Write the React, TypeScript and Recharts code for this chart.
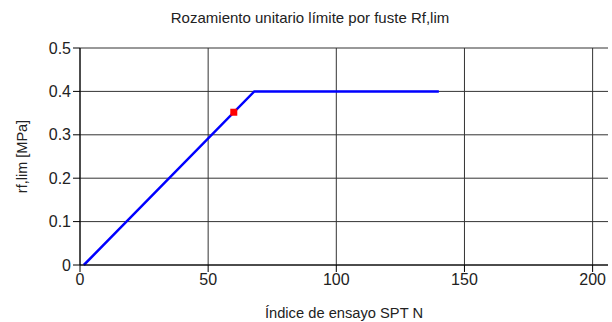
import React from 'react';
import { ComposedChart, Line, XAxis, YAxis, CartesianGrid } from 'recharts';

const curveN = [1.5, 68, 140];
const curveRf = [0, 0.4, 0.4];
const pointN = [60];
const pointRf = [0.352];
const xTicks = [0, 50, 100, 150, 200];
const yTicks = [0, 0.1, 0.2, 0.3, 0.4, 0.5];

const curve = curveN.map((n, i) => ({ n, rf: curveRf[i] }));
const point = pointN.map((n, i) => ({ n, rf: pointRf[i] }));

const font = 'Arial, "Liberation Sans", sans-serif';

const RedSquare = (p: any) => (
  <rect key={`pt-${p.index}`} x={p.cx - 3.5} y={p.cy - 3.5} width={7} height={7} fill="#ff0000" />
);

const App: React.FC = () => {
  return (
    <div style={{ position: 'fixed', left: 0, top: 0, width: 612, height: 322, background: '#fff', fontFamily: font }}>
      <style>{'html,body{margin:0;overflow:hidden}.recharts-surface{overflow:visible}'}</style>
      <ComposedChart width={612} height={322} margin={{ top: 48, right: 4, bottom: 0, left: 0 }}>
        <CartesianGrid stroke="#333" strokeWidth={1} horizontalValues={yTicks} verticalValues={xTicks} />
        <XAxis
          type="number"
          dataKey="n"
          domain={[0, 206]}
          ticks={xTicks}
          allowDataOverflow
          height={57}
          tickSize={7}
          stroke="#000"
          tick={{ fill: '#222', fontSize: 16, fontFamily: font }}
          label={{ value: 'Índice de ensayo SPT N', position: 'insideBottom', offset: 4, fill: '#222', fontSize: 14.7, fontFamily: font }}
        />
        <YAxis
          type="number"
          domain={[0, 0.5]}
          ticks={yTicks}
          width={80}
          tickSize={7}
          stroke="#000"
          tickFormatter={(v: number) => String(v)}
          tick={{ fill: '#222', fontSize: 16, fontFamily: font }}
          label={{ value: 'rf,lim [MPa]', angle: -90, position: 'insideLeft', offset: 22, fill: '#222', fontSize: 14.5, fontFamily: font, style: { textAnchor: 'middle' } }}
        />
        <Line data={curve} dataKey="rf" type="linear" stroke="#0000ff" strokeWidth={2.5} dot={false} isAnimationActive={false} />
        <Line data={point} dataKey="rf" type="linear" stroke="none" dot={RedSquare} isAnimationActive={false} />
      </ComposedChart>
      <div style={{ position: 'absolute', left: 8, width: 604, top: 9, textAlign: 'center', fontSize: 15, color: '#222' }}>
        Rozamiento unitario límite por fuste Rf,lim
      </div>
    </div>
  );
};

export default App;
